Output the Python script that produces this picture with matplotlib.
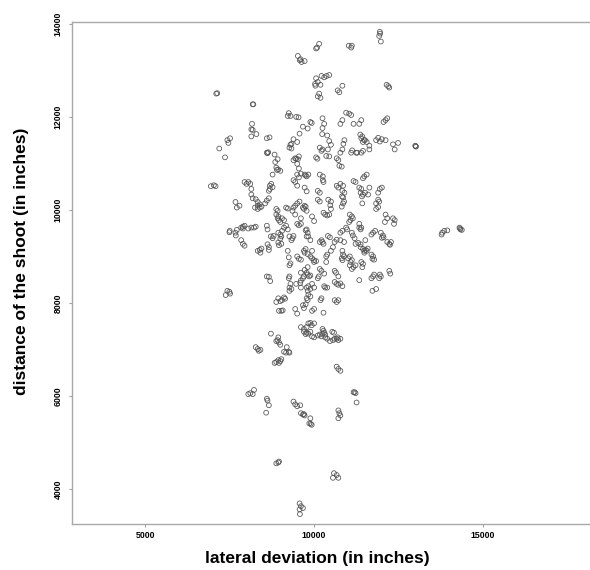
import matplotlib.pyplot as plt

plt.rcParams['font.family'] = ['Liberation Sans', 'DejaVu Sans']

# shots: (lateral deviation, distance), grouped by distance band
shots_above_12000 = [
    (11950, 13830), (11930, 13740), (11980, 13620), (11960, 13790),
    (10090, 13490), (10150, 13570), (10060, 13470),
    (11030, 13530), (11100, 13490), (11120, 13530),
    (9520, 13310), (9575, 13220), (9630, 13180), (9720, 13200), (9600, 13240),
    (7100, 12500), (7130, 12510),
    (10060, 12830), (10110, 12750), (10030, 12710), (10220, 12880), (10300, 12850),
    (10370, 12880), (10450, 12900), (10040, 12670), (10190, 12690),
    (10700, 12570), (10750, 12530), (10840, 12670),
    (10150, 12500), (10110, 12440), (10190, 12410),
    (12150, 12690), (12200, 12660), (12230, 12630),
    (8180, 12270), (8200, 12270),
    (9250, 12080), (9300, 12020), (9220, 12020), (9470, 12000), (9540, 11990),
    (10950, 12090), (11040, 12070), (11100, 12040),
]

shots_11000_12000 = [
    (9890, 11890), (9930, 11870), (9670, 11790), (9810, 11750), (9570, 11640),
    (8160, 11850), (8140, 11730), (8180, 11720), (8140, 11580), (8290, 11630),
    (8600, 11540), (8680, 11560),
    (7430, 11500), (7510, 11540), (7460, 11440), (7190, 11320), (7360, 11130),
    (10250, 11970), (10300, 11850), (10250, 11760), (10240, 11630), (10390, 11600),
    (10450, 11480), (10500, 11400), (10410, 11300),
    (10170, 11340), (10220, 11270), (10250, 11300),
    (10360, 11160), (10450, 11150), (10060, 11130), (10100, 11100),
    (10780, 11850), (10840, 11930), (10900, 11500), (10870, 11420), (10840, 11300),
    (11170, 11850), (11340, 11850), (11400, 11930),
    (11370, 11620), (11400, 11540), (11450, 11460), (11510, 11500), (11560, 11460),
    (11430, 11580), (11480, 11500),
    (11280, 11230), (11250, 11230), (11400, 11230), (11450, 11270), (11640, 11300),
    (11640, 11380),
    (11840, 11500), (11900, 11550), (12010, 11520), (12120, 11500), (11950, 11470),
    (12060, 11890), (12120, 11930), (12170, 11970),
    (12340, 11410), (12390, 11300), (12490, 11440),
    (13000, 11380), (13020, 11360), (13010, 11370),
    (11100, 11230), (11130, 11280), (10780, 11230),
    (10670, 11110), (10720, 11070),
    (9390, 11520), (9500, 11460), (9330, 11420), (9270, 11340), (9330, 11320),
    (9300, 11400),
    (9390, 11070), (9440, 11110), (9520, 11090), (9550, 11150), (9500, 10990),
    (9550, 10890), (9470, 11100),
    (8830, 11190), (8920, 11090), (8850, 11030), (8600, 11230), (8640, 11240),
    (8620, 11220),
]

shots_10000_11000 = [
    (10750, 10950), (10820, 10930),
    (8880, 10910), (8940, 10870), (9000, 10840), (8900, 10860),
    (8770, 10760), (8730, 10560), (8770, 10490), (8690, 10520), (8660, 10410),
    (9500, 10760), (9550, 10700), (9610, 10780), (9720, 10760), (9780, 10720),
    (9830, 10760), (9750, 10740),
    (9390, 10640), (9440, 10600), (9500, 10520), (9720, 10480), (9780, 10400),
    (10170, 10760), (10260, 10720), (10260, 10640), (10280, 10600),
    (10110, 10410), (10170, 10370),
    (10670, 10520), (10720, 10480), (10780, 10560), (10860, 10520),
    (10840, 10410), (10900, 10370), (10830, 10290), (10860, 10270),
    (11170, 10620), (11230, 10600),
    (11340, 10480), (11400, 10450), (11380, 10370), (11450, 10330), (11420, 10290),
    (11510, 10370), (11600, 10330), (11640, 10480),
    (11450, 10680), (11490, 10720), (11560, 10760),
    (11900, 10370), (11950, 10450), (12010, 10480), (11430, 10140),
    (7940, 10600), (8000, 10560), (8050, 10600), (8140, 10450), (8110, 10560),
    (8140, 10330), (8180, 10250), (8270, 10230), (8330, 10170), (8390, 10120),
    (8440, 10070), (8390, 10050), (8330, 10090), (8250, 10050), (8330, 10020),
    (8550, 10140), (8600, 10200), (8660, 10250), (8690, 10450),
    (7670, 10170), (7710, 10050), (7790, 10090),
    (6940, 10510), (7030, 10530), (7080, 10510),
    (8880, 10020), (9170, 10050), (9220, 10030), (9390, 10050), (9440, 10090),
    (9670, 10050), (9720, 10090), (9700, 10020), (9750, 10070),
    (9500, 10140), (9570, 10180), (10110, 10220), (10170, 10180),
    (10420, 10220), (10500, 10180), (10480, 10100), (10500, 10020),
    (10890, 10180), (10860, 10140), (10820, 10070),
    (11840, 10140), (11900, 10220), (11900, 10060), (11840, 10020), (11930, 10180),
]

shots_9000_10000 = [
    (8920, 9980), (8880, 9900), (8940, 9860), (8920, 9820), (8960, 9780), (9000, 9740),
    (9050, 9820), (9110, 9780), (9360, 9980), (9440, 9900),
    (9780, 9980), (9610, 9820), (9940, 9860), (10000, 9760), (10450, 9900),
    (11060, 9900), (11120, 9860), (11150, 9820), (11080, 9780), (11040, 9740),
    (11340, 9700), (11400, 9620),
    (12120, 9900), (12170, 9820), (12100, 9740),
    (12340, 9820), (12390, 9780), (12370, 9700),
    (11980, 9510), (12040, 9450), (12010, 9400), (12060, 9410),
    (11750, 9510), (11810, 9550), (11700, 9470),
    (12170, 9310), (12230, 9270), (12280, 9310), (12250, 9250),
    (13800, 9510), (13860, 9550), (13950, 9560), (13780, 9470),
    (14310, 9620), (14340, 9580), (14380, 9570), (14330, 9600),
    (7490, 9520), (7500, 9550), (7670, 9510), (7710, 9570), (7680, 9450),
    (7840, 9620), (7890, 9640), (7940, 9660), (7890, 9600),
    (7840, 9350), (7890, 9270), (7940, 9230),
    (8050, 9600), (8140, 9620), (8220, 9620), (8270, 9640),
    (8330, 9120), (8390, 9140), (8410, 9080), (8440, 9170),
    (8600, 9660), (8620, 9580), (8620, 9260), (8660, 9200), (8660, 9140),
    (9000, 9380), (8960, 9240), (9030, 9270), (8940, 9300), (9050, 9550),
    (9270, 9430), (9390, 9440), (9360, 9390), (9330, 9350),
    (9220, 9120), (9250, 8980), (9500, 9000), (9550, 8950), (9610, 8930),
    (9780, 9580), (9810, 9510), (9780, 9430), (9750, 9560), (9830, 9430), (9890, 9350),
    (9700, 9120), (9750, 9160), (9720, 9080), (9810, 9050), (9940, 9120),
    (9890, 9000), (9940, 8960), (10000, 8920), (10060, 8900), (10000, 8880),
    (10220, 9350), (10280, 9270), (10250, 9310), (10170, 9310),
    (10410, 9440), (10470, 9410), (10610, 9310), (10670, 9360),
    (10500, 9120), (10560, 9200),
    (10780, 9510), (10840, 9550), (10780, 9350), (10890, 9310), (10950, 9620), (10980, 9580),
    (10840, 9120), (10860, 9040), (10820, 8960), (10890, 9000), (10840, 8920),
    (11010, 8960), (11060, 9000), (11120, 8920), (11080, 8880),
    (11120, 9510), (11150, 9450), (11200, 9390),
    (11230, 9270), (11310, 9290), (11380, 9260), (11340, 9620), (11380, 9580),
    (11380, 9200), (11450, 9160), (11490, 9120), (11530, 9140), (11560, 9120),
    (11590, 9170), (11490, 9080),
    (11700, 9040), (11750, 9000), (11730, 8950), (11780, 8930), (11520, 9350),
    (9110, 9620), (9170, 9660), (9220, 9580),
    (8720, 9430), (8770, 9390), (8800, 9440),
    (8940, 9510), (9000, 9470), (9030, 9430),
    (9500, 9700), (9550, 9670), (9610, 9700),
    (10280, 9940), (10330, 9900), (10390, 9880), (10360, 9000), (10390, 9040),
]

shots_8000_9000 = [
    (9270, 8810), (9300, 8850),
    (11060, 8810), (11120, 8730), (11170, 8770), (11230, 8810),
    (11400, 8880), (11450, 8840), (11430, 8770),
    (10170, 8730), (10220, 8690), (10300, 8630), (10360, 8880),
    (9810, 8770), (9720, 8710), (9780, 8650), (9810, 8610), (9850, 8570), (9890, 8590),
    (9610, 8650), (9700, 8570), (9670, 8530), (9610, 8480), (9590, 8430),
    (9270, 8570), (9250, 8530), (9470, 8410),
    (9780, 8330), (9830, 8360), (9810, 8260), (9890, 8300), (9830, 8180),
    (9890, 8140), (9780, 8100), (9810, 8060),
    (9940, 8410), (10000, 8330), (10140, 8570), (10110, 8530),
    (10300, 8360), (10330, 8330), (10390, 8330),
    (10610, 8450), (10670, 8410), (10720, 8390), (10780, 8420), (10840, 8360),
    (10720, 8570), (10610, 8690), (10650, 8650),
    (10610, 8060), (10670, 8020), (10720, 8060), (10220, 8100), (10190, 8060),
    (9610, 8330), (9270, 8260), (9330, 8300),
    (8940, 8100), (9000, 8040), (8880, 8020), (9050, 8060), (9110, 8120), (9140, 8090),
    (9270, 8330), (9300, 8410),
    (12230, 8690), (12260, 8630), (11950, 8610), (11980, 8570), (11930, 8530),
    (11750, 8570), (11700, 8530), (11780, 8610), (11730, 8260), (11840, 8300),
    (11340, 8490),
    (7430, 8260), (7490, 8240), (7510, 8200), (7380, 8170),
    (8600, 8570), (8660, 8560), (8700, 8470),
]

shots_below_8000 = [
    (9440, 7870), (9500, 7770), (8960, 7830), (9030, 7830), (9070, 7840),
    (9670, 7950), (9700, 7890), (9750, 7970), (9940, 7830), (10000, 7870), (10280, 7790),
    (8720, 7340), (8940, 7260), (8920, 7200), (8960, 7150), (9000, 7100), (8880, 7180),
    (9190, 7050), (9250, 6950), (9270, 6930), (9110, 6950), (9170, 6930),
    (9610, 7480), (9700, 7440), (9780, 7480), (9830, 7560), (9890, 7570),
    (9930, 7520), (10000, 7560),
    (9700, 7380), (9780, 7360), (9750, 7330), (9830, 7340), (9890, 7380),
    (9940, 7280), (10000, 7260), (10110, 7300), (10170, 7320), (10220, 7280),
    (10250, 7440), (10280, 7400), (10300, 7360), (10250, 7340), (10330, 7320),
    (10330, 7260), (10390, 7230), (10470, 7180), (10560, 7200), (10610, 7230),
    (10540, 7380), (10590, 7360),
    (10670, 7230), (10720, 7200), (10780, 7230), (10700, 7260),
    (8270, 7050), (8330, 7010), (8360, 6970), (8410, 6990),
    (8830, 6710), (8880, 6730), (8940, 6770), (9000, 6750), (9030, 6790), (8960, 6710),
    (10670, 6630), (10720, 6580), (10780, 6540),
    (8110, 6060), (8050, 6040), (8220, 6130), (8180, 6040),
    (8600, 5940), (8620, 5900), (8660, 5800), (8580, 5640),
    (9390, 5880), (9440, 5820), (9500, 5780), (9590, 5800),
    (9610, 5630), (9670, 5600), (9720, 5580), (9700, 5610),
    (9890, 5520), (9860, 5410), (9930, 5380), (9900, 5400),
    (10720, 5690), (10750, 5630), (10780, 5580), (10720, 5520),
    (11170, 6080), (11230, 6060), (11200, 6080), (11260, 5860),
    (8880, 4550), (8940, 4570), (8960, 4590),
    (10590, 4340), (10670, 4300), (10720, 4240), (10560, 4240),
    (9570, 3690), (9610, 3630), (9670, 3590), (9570, 3560), (9580, 3460),
]

x_ticks = [5000, 10000, 15000]
y_ticks = [4000, 6000, 8000, 10000, 12000, 14000]

fig = plt.figure(figsize=(5.9, 5.7), dpi=100)
ax = fig.add_axes([72 / 590, 46.5 / 570, 518 / 590, 501.5 / 570])

for band in [shots_above_12000, shots_11000_12000, shots_10000_11000,
             shots_9000_10000, shots_8000_9000, shots_below_8000]:
    xs = [p[0] for p in band]
    ys = [p[1] for p in band]
    ax.scatter(xs, ys, s=12, facecolors='none', edgecolors='#505050', linewidths=0.55)

ax.set_xlim(2824, 18180)
ax.set_ylim(3258, 14040)

ax.set_xticks(x_ticks)
ax.set_yticks(y_ticks)
ax.set_xticklabels([str(t) for t in x_ticks], fontsize=6.3, fontweight='bold')
ax.set_yticklabels([str(t) for t in y_ticks], fontsize=6.3, fontweight='bold',
                   rotation=90, va='center')
ax.tick_params(axis='both', color='#a0a0a0', length=2.5, width=0.8)
ax.tick_params(axis='x', pad=3)
ax.tick_params(axis='y', pad=4)

for side in ['left', 'bottom', 'top']:
    ax.spines[side].set_color('#a8a8a8')
    ax.spines[side].set_linewidth(1.0)
ax.spines['right'].set_visible(False)

fig.text(317 / 590, 1 - 559 / 570, 'lateral deviation (in inches)',
         fontsize=12.5, fontweight='bold', ha='center', va='center')
fig.text(22 / 590, 1 - 261 / 570, 'distance of the shoot (in inches)',
         fontsize=12.5, fontweight='bold', ha='center', va='center', rotation=90)

fig.savefig('out.png', dpi=100)
